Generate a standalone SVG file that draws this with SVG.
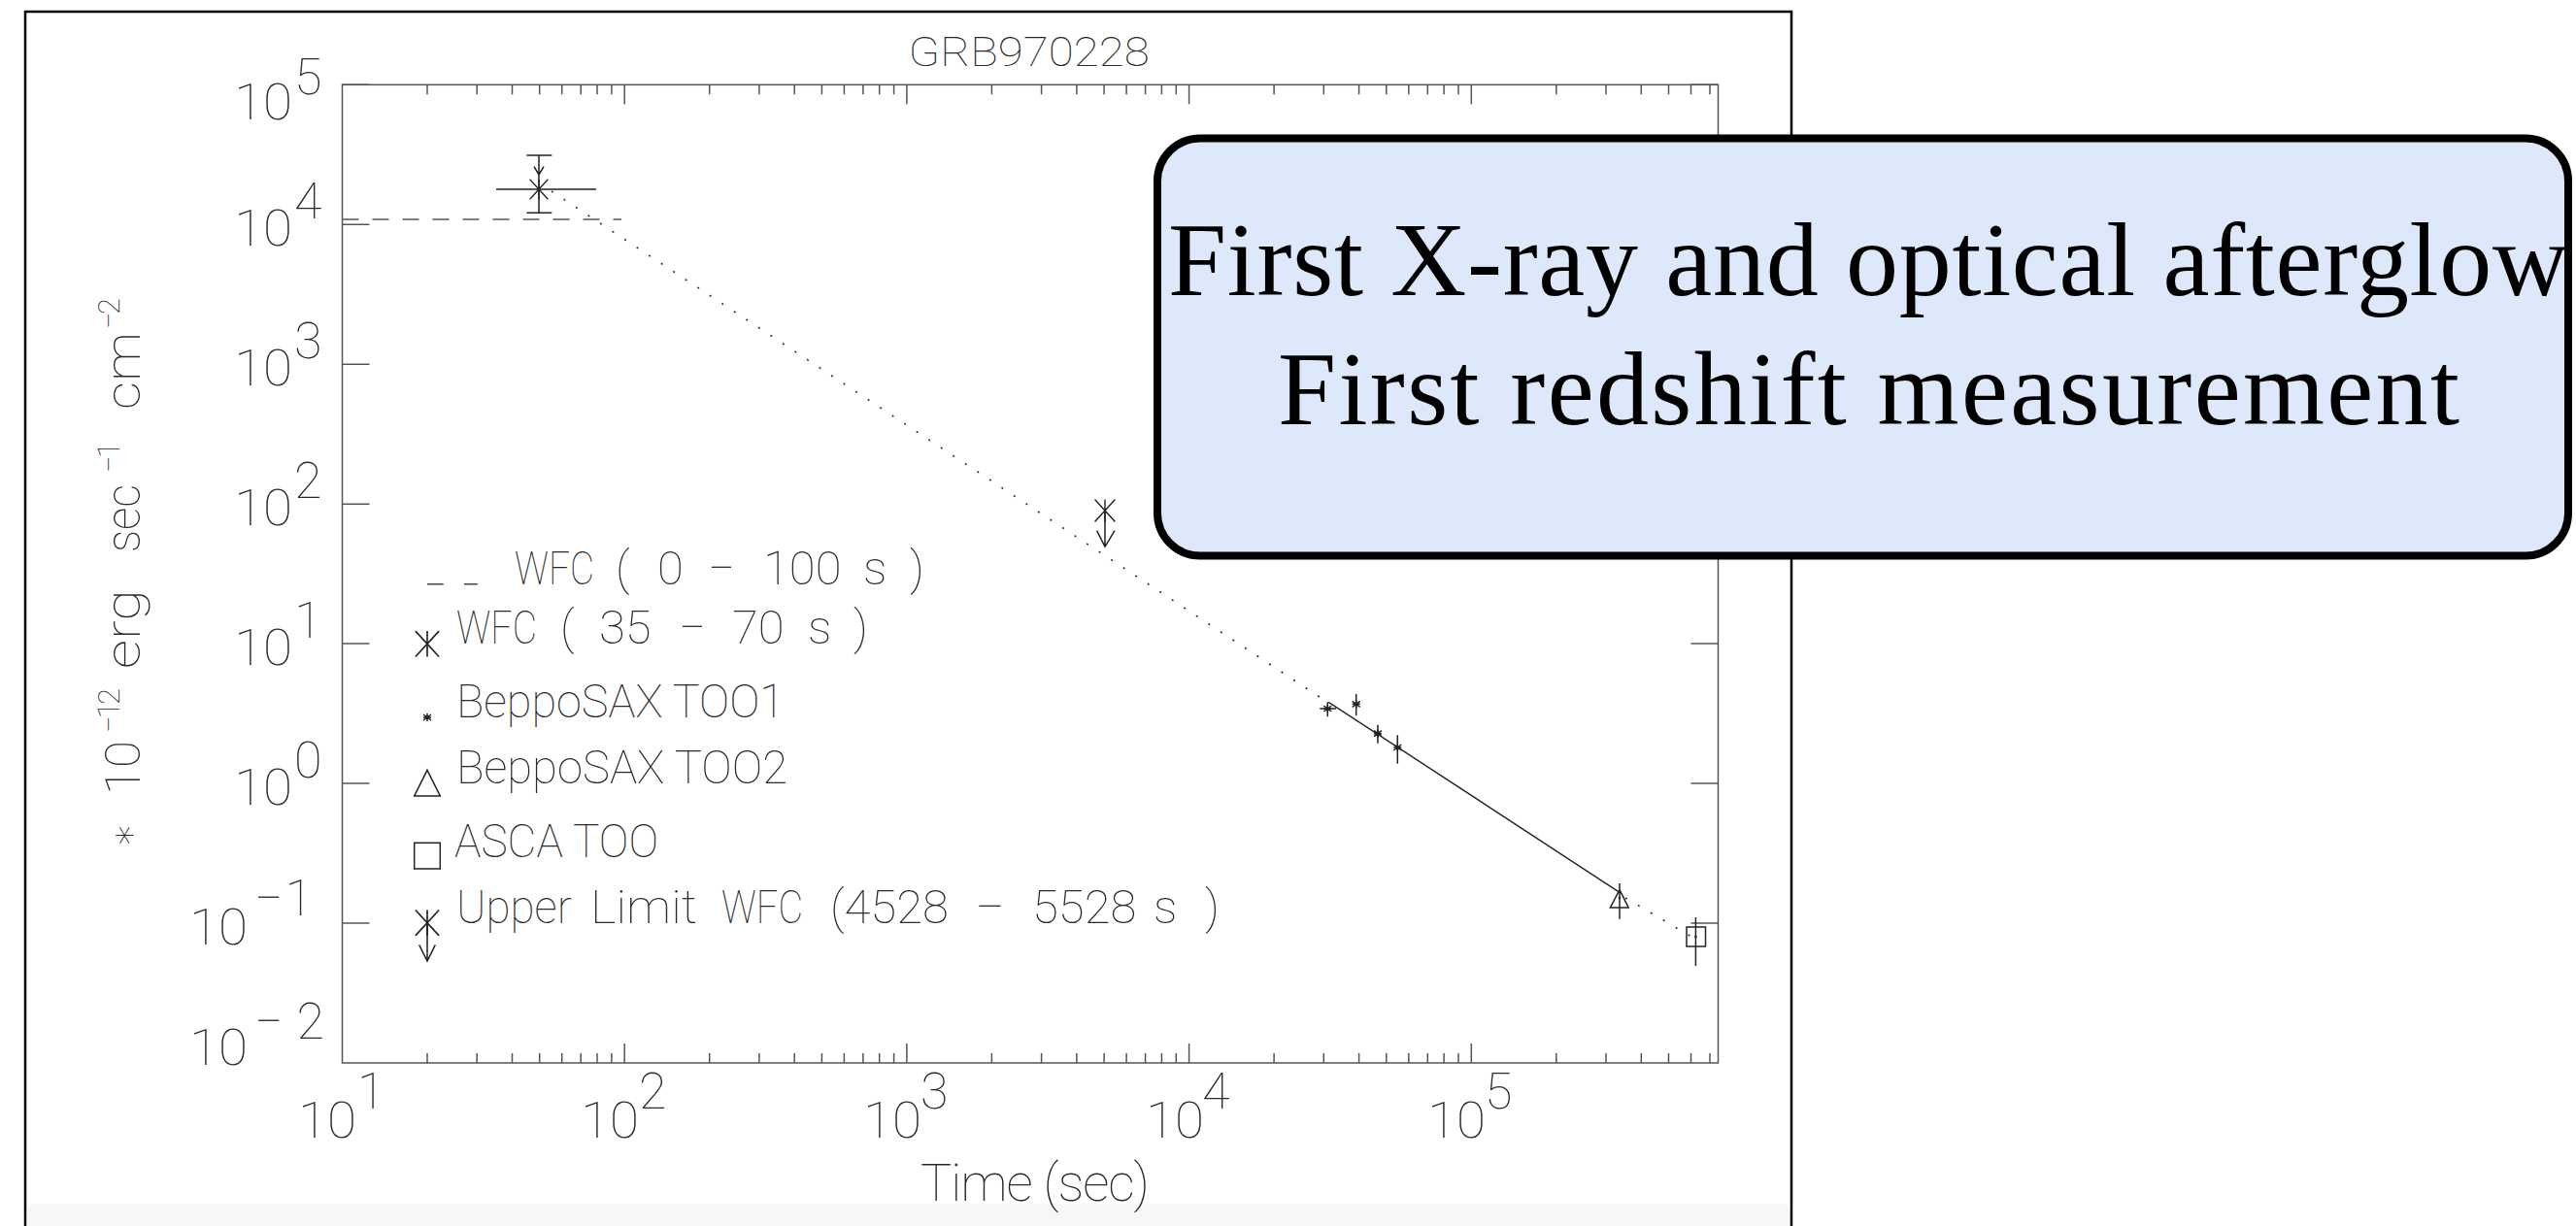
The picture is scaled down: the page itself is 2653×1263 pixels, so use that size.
<svg xmlns="http://www.w3.org/2000/svg" xmlns:xlink="http://www.w3.org/1999/xlink" width="2653" height="1263" viewBox="0 0 2653 1263">
  <style>
    .lab { font-family: Roboto, "DejaVu Sans", sans-serif; font-weight: 100; fill: #2a2a2a; }
    .tick { font-size: 52px; }
    .leg { font-size: 49px; }
    .axis { fill: none; stroke: #555; stroke-width: 1.5; }
    .data { fill: none; stroke: #222; stroke-width: 1.4; }
    .mark { fill: none; stroke: #222; stroke-width: 1.5; }
    .dot { fill: none; stroke: #333; stroke-width: 1.7; stroke-dasharray: 2 13; }
    .dash { fill: none; stroke: #555; stroke-width: 1.6; stroke-dasharray: 17 14; }
    .note { font-family: "Liberation Serif", "Times New Roman", serif; font-size: 108px; fill: #000; }
  </style>
  <defs>
    <path id="star" d="M0,-12V12M-11,-12L11,12M-11,12L11,-12"/>
    <path id="sstar" d="M0,-4V4M-4,-3L4,3M-4,3L4,-3M-4,0H4"/>
  </defs>

  <rect width="2653" height="1263" fill="#fff"/>

  <!-- page frame with pale strip at the foot -->
  <g id="page">
    <rect x="28" y="1240" width="1816" height="60" rx="8" fill="#f7f7f7"/>
    <rect x="26" y="12" width="1819" height="1300" fill="none" stroke="#000" stroke-width="2.5"/>
  </g>

  <!-- plot axes and ticks -->
  <g id="axes">
    <rect class="axis" x="352.5" y="87.3" width="1417" height="1007.7"/>
    <!-- log time ticks, bottom (up) and top (down) -->
    <path class="axis" d="M643.2,1095V1075M933.9,1095V1075M1224.6,1095V1075M1515.3,1095V1075
      M440,1095V1085M491.2,1095V1085M527.5,1095V1085M555.7,1095V1085M578.7,1095V1085M598.2,1095V1085M615,1095V1085M629.9,1095V1085
      M730.7,1095V1085M781.9,1095V1085M818.2,1095V1085M846.4,1095V1085M869.4,1095V1085M888.9,1095V1085M905.7,1095V1085M920.6,1095V1085
      M1021.4,1095V1085M1072.6,1095V1085M1108.9,1095V1085M1137.1,1095V1085M1160.1,1095V1085M1179.6,1095V1085M1196.4,1095V1085M1211.3,1095V1085
      M1312.1,1095V1085M1363.3,1095V1085M1399.6,1095V1085M1427.8,1095V1085M1450.8,1095V1085M1470.3,1095V1085M1487.1,1095V1085M1502,1095V1085
      M1602.8,1095V1085M1654,1095V1085M1690.3,1095V1085M1718.5,1095V1085M1741.5,1095V1085M1761,1095V1085
      M643.2,87.3V107.3M933.9,87.3V107.3M1224.6,87.3V107.3M1515.3,87.3V107.3
      M440,87.3V97.3M491.2,87.3V97.3M527.5,87.3V97.3M555.7,87.3V97.3M578.7,87.3V97.3M598.2,87.3V97.3M615,87.3V97.3M629.9,87.3V97.3
      M730.7,87.3V97.3M781.9,87.3V97.3M818.2,87.3V97.3M846.4,87.3V97.3M869.4,87.3V97.3M888.9,87.3V97.3M905.7,87.3V97.3M920.6,87.3V97.3
      M1021.4,87.3V97.3M1072.6,87.3V97.3M1108.9,87.3V97.3M1137.1,87.3V97.3M1160.1,87.3V97.3M1179.6,87.3V97.3M1196.4,87.3V97.3M1211.3,87.3V97.3
      M1312.1,87.3V97.3M1363.3,87.3V97.3M1399.6,87.3V97.3M1427.8,87.3V97.3M1450.8,87.3V97.3M1470.3,87.3V97.3M1487.1,87.3V97.3M1502,87.3V97.3
      M1602.8,87.3V97.3M1654,87.3V97.3M1690.3,87.3V97.3M1718.5,87.3V97.3M1741.5,87.3V97.3M1761,87.3V97.3"/>
    <!-- flux decades, left and right -->
    <path class="axis" d="M352.5,87.3H380.5M352.5,231.2H380.5M352.5,375.2H380.5M352.5,519.2H380.5M352.5,663.1H380.5M352.5,807.1H380.5M352.5,951H380.5
      M1769.5,87.3H1741.5M1769.5,231.2H1741.5M1769.5,375.2H1741.5M1769.5,519.2H1741.5M1769.5,663.1H1741.5M1769.5,807.1H1741.5M1769.5,951H1741.5"/>
  </g>

  <!-- axis labels -->
  <g id="labels" class="lab">
    <text x="935.6" y="68" font-size="42" textLength="248" lengthAdjust="spacingAndGlyphs">GRB970228</text>
    <text x="948" y="1237" font-size="54" textLength="236" lengthAdjust="spacing">Time (sec)</text>

    <!-- flux decade labels -->
    <text class="tick" y="123"><tspan x="241" textLength="60" lengthAdjust="spacingAndGlyphs">10</tspan><tspan x="303" y="97">5</tspan></text>
    <text class="tick" y="253.2"><tspan x="241" textLength="60" lengthAdjust="spacingAndGlyphs">10</tspan><tspan x="303" y="225.2">4</tspan></text>
    <text class="tick" y="397.2"><tspan x="241" textLength="60" lengthAdjust="spacingAndGlyphs">10</tspan><tspan x="303" y="369.2">3</tspan></text>
    <text class="tick" y="541.2"><tspan x="241" textLength="60" lengthAdjust="spacingAndGlyphs">10</tspan><tspan x="303" y="513.2">2</tspan></text>
    <text class="tick" y="685.1"><tspan x="241" textLength="60" lengthAdjust="spacingAndGlyphs">10</tspan><tspan x="303" y="657.1">1</tspan></text>
    <text class="tick" y="829.1"><tspan x="241" textLength="60" lengthAdjust="spacingAndGlyphs">10</tspan><tspan x="303" y="801.1">0</tspan></text>
    <text class="tick" y="973"><tspan x="195" textLength="60" lengthAdjust="spacingAndGlyphs">10</tspan><tspan x="262" y="943" textLength="60" lengthAdjust="spacing">−1</tspan></text>
    <text class="tick" y="1097"><tspan x="195" textLength="60" lengthAdjust="spacingAndGlyphs">10</tspan><tspan x="262" y="1070" textLength="72" lengthAdjust="spacing">−2</tspan></text>

    <!-- time decade labels -->
    <text class="tick" y="1172"><tspan x="307" textLength="60" lengthAdjust="spacingAndGlyphs">10</tspan><tspan x="368" y="1142">1</tspan></text>
    <text class="tick" y="1172"><tspan x="598" textLength="60" lengthAdjust="spacingAndGlyphs">10</tspan><tspan x="658" y="1142">2</tspan></text>
    <text class="tick" y="1172"><tspan x="889" textLength="60" lengthAdjust="spacingAndGlyphs">10</tspan><tspan x="948" y="1142">3</tspan></text>
    <text class="tick" y="1172"><tspan x="1180" textLength="60" lengthAdjust="spacingAndGlyphs">10</tspan><tspan x="1238" y="1142">4</tspan></text>
    <text class="tick" y="1172"><tspan x="1470" textLength="60" lengthAdjust="spacingAndGlyphs">10</tspan><tspan x="1529" y="1142">5</tspan></text>

    <!-- flux unit, reading upward -->
    <text transform="translate(143.5,873) rotate(-90)" font-size="50">
      <tspan x="0" y="-3" font-size="40">∗</tspan>
      <tspan x="54" y="0" textLength="56" lengthAdjust="spacingAndGlyphs">10</tspan>
      <tspan x="118" y="-21" font-size="31" textLength="46" lengthAdjust="spacing">−12</tspan>
      <tspan x="184" y="0" textLength="82" lengthAdjust="spacingAndGlyphs">erg</tspan>
      <tspan x="304" y="0" textLength="70" lengthAdjust="spacingAndGlyphs">sec</tspan>
      <tspan x="386" y="-21" font-size="31" textLength="32" lengthAdjust="spacing">−1</tspan>
      <tspan x="451" y="0" textLength="80" lengthAdjust="spacingAndGlyphs">cm</tspan>
      <tspan x="534" y="-21" font-size="31" textLength="32" lengthAdjust="spacing">−2</tspan>
    </text>
  </g>

  <!-- legend -->
  <g id="legend">
    <path d="M440,601.7H456.7M478,601.7H491.7" fill="none" stroke="#444" stroke-width="1.5"/>
    <use href="#star" class="mark" transform="translate(440,663.3) scale(1.1)"/>
    <use href="#sstar" class="mark" transform="translate(440,739)" stroke-width="1.8"/>
    <path class="mark" d="M440,793.3L453.3,820H426.7Z"/>
    <rect class="mark" x="426.7" y="868.3" width="26.6" height="26.7"/>
    <use href="#star" class="mark" transform="translate(440,950.7) scale(1.1)"/>
    <path class="mark" d="M440,950.7V990M431.7,973.3L440,990L448.3,973.3"/>

    <text class="lab leg" y="601.7">
      <tspan x="530" textLength="82" lengthAdjust="spacingAndGlyphs">WFC</tspan>
      <tspan x="634">(</tspan>
      <tspan x="677">0</tspan>
      <tspan x="729" textLength="28" lengthAdjust="spacingAndGlyphs">−</tspan>
      <tspan x="786">100</tspan>
      <tspan x="889">s</tspan>
      <tspan x="937">)</tspan>
    </text>
    <text class="lab leg" y="663.3">
      <tspan x="470" textLength="83" lengthAdjust="spacingAndGlyphs">WFC</tspan>
      <tspan x="577">(</tspan>
      <tspan x="617">35</tspan>
      <tspan x="699" textLength="28" lengthAdjust="spacingAndGlyphs">−</tspan>
      <tspan x="754">70</tspan>
      <tspan x="832">s</tspan>
      <tspan x="879">)</tspan>
    </text>
    <text class="lab leg" x="470" y="739" textLength="338" lengthAdjust="spacingAndGlyphs">BeppoSAX TOO1</text>
    <text class="lab leg" x="470" y="806.7" textLength="341" lengthAdjust="spacingAndGlyphs">BeppoSAX TOO2</text>
    <text class="lab leg" x="468" y="883.3" textLength="210" lengthAdjust="spacingAndGlyphs">ASCA TOO</text>
    <text class="lab leg" y="950.7">
      <tspan x="470" textLength="119" lengthAdjust="spacingAndGlyphs">Upper</tspan>
      <tspan x="608" textLength="110" lengthAdjust="spacingAndGlyphs">Limit</tspan>
      <tspan x="743" textLength="84" lengthAdjust="spacingAndGlyphs">WFC</tspan>
      <tspan x="855">(4528</tspan>
      <tspan x="1004" textLength="31" lengthAdjust="spacingAndGlyphs">−</tspan>
      <tspan x="1063">5528</tspan>
      <tspan x="1188">s</tspan>
      <tspan x="1241">)</tspan>
    </text>
  </g>

  <!-- power-law decay model -->
  <g id="model">
    <path class="dash" d="M352.5,226H640"/>
    <path class="dot" d="M568,197L1362,720"/>
    <path class="data" d="M1368.3,723.3L1668,919.3"/>
    <path class="dot" d="M1674,925L1742,965"/>
  </g>

  <!-- measurements -->
  <g id="wfc-prompt">
    <path class="mark" d="M555,160V219.3M542.4,160H568.3M542.4,219.3H568.3M511,195H614M550,171.7L555,180L560,171.7"/>
    <use href="#star" class="mark" transform="translate(555,195) scale(0.85)"/>
  </g>
  <g id="wfc-upper-limit">
    <use href="#star" class="mark" transform="translate(1138,526) scale(0.95)"/>
    <path class="mark" d="M1138,526V563.3M1129.6,546.7L1138,563.3L1148,546.7"/>
  </g>
  <g id="sax-too1">
    <path class="mark" d="M1367.3,723.3V738.3M1359.3,730H1376M1396.7,715V737.3M1419,746.7V765.7M1439.3,757.3V786.7"/>
    <use href="#sstar" class="mark" transform="translate(1367.3,730)" stroke-width="1.8"/>
    <use href="#sstar" class="mark" transform="translate(1396.7,725.3)" stroke-width="1.8"/>
    <use href="#sstar" class="mark" transform="translate(1419,755.7)" stroke-width="1.8"/>
    <use href="#sstar" class="mark" transform="translate(1439.3,770)" stroke-width="1.8"/>
  </g>
  <g id="sax-too2">
    <path class="mark" d="M1668,916.7L1677.2,935H1658.4ZM1668,910V946.7"/>
    <circle cx="1668" cy="925" r="1.3" fill="#222"/>
  </g>
  <g id="asca-too">
    <rect class="mark" x="1737" y="955" width="19.5" height="20"/>
    <path class="mark" d="M1746.4,945V995"/>
    <circle cx="1746.4" cy="965" r="1.3" fill="#222"/>
  </g>

  <!-- highlight callout -->
  <g id="callout">
    <rect x="1192" y="142.5" width="1453" height="430" rx="44" ry="44" fill="#dde8fa" stroke="#000" stroke-width="8"/>
    <text class="note" x="1203" y="304" textLength="1442" lengthAdjust="spacing">First X-ray and optical afterglow</text>
    <text class="note" x="1316" y="437" textLength="1217" lengthAdjust="spacing">First redshift measurement</text>
  </g>
</svg>
